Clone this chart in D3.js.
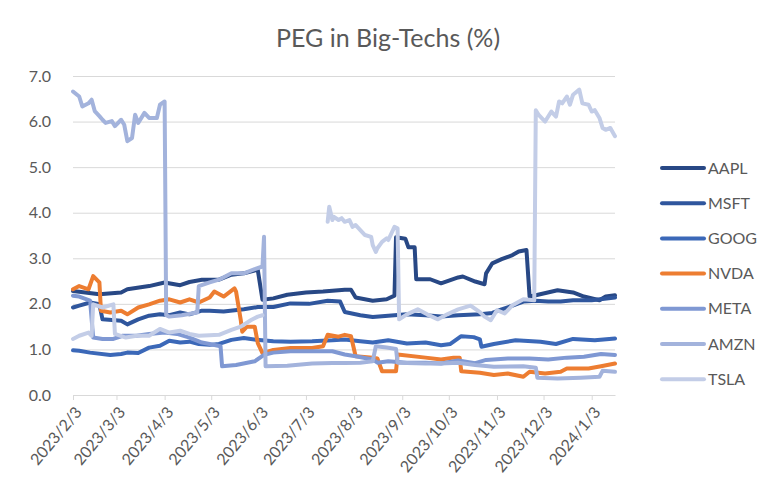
<!DOCTYPE html>
<html>
<head>
<meta charset="utf-8">
<script src="https://cdn.jsdelivr.net/npm/d3@7"></script>
<style>
  body { margin: 0; background: #fff; }
  svg text { font-family: Lato, "Open Sans", sans-serif; fill: #595959; }
</style>
</head>
<body>
<svg id="chart" width="777" height="494"></svg>
<script>
// PEG values, [date, value]; null = gap in data
const aapl = [["2023-02-03",2.28],["2023-02-20",2.21],["2023-03-06",2.25],["2023-03-10",2.32],["2023-03-24",2.39],["2023-04-03",2.47],["2023-04-13",2.41],["2023-04-19",2.48],["2023-04-27",2.53],["2023-05-08",2.53],["2023-05-16",2.64],["2023-05-24",2.67],["2023-06-01",2.74],["2023-06-02",2.74],["2023-06-05",2.09],["2023-06-12",2.12],["2023-06-21",2.2],["2023-07-03",2.25],["2023-07-14",2.27],["2023-07-28",2.31],["2023-08-01",2.31],["2023-08-04",2.14],["2023-08-15",2.07],["2023-08-24",2.1],["2023-08-29",2.18],["2023-08-30",3.46],["2023-09-05",3.43],["2023-09-07",3.24],["2023-09-11",3.24],["2023-09-12",2.54],["2023-09-21",2.54],["2023-09-28",2.45],["2023-10-09",2.58],["2023-10-12",2.6],["2023-10-20",2.49],["2023-10-26",2.43],["2023-10-27",2.67],["2023-10-31",2.89],["2023-11-06",2.98],["2023-11-13",3.07],["2023-11-17",3.15],["2023-11-22",3.18],["2023-11-24",2.16],["2023-11-28",2.19],["2023-12-12",2.3],["2023-12-22",2.25],["2023-12-29",2.16],["2024-01-08",2.08],["2024-01-12",2.16],["2024-01-18",2.19]];
const msft = [["2023-02-03",1.92],["2023-02-07",1.96],["2023-02-14",2.03],["2023-02-20",1.99],["2023-02-22",1.66],["2023-03-06",1.63],["2023-03-10",1.55],["2023-03-17",1.66],["2023-03-24",1.74],["2023-03-31",1.77],["2023-04-06",1.75],["2023-04-13",1.81],["2023-04-19",1.77],["2023-04-27",1.85],["2023-05-02",1.85],["2023-05-11",1.83],["2023-05-24",1.88],["2023-06-02",1.93],["2023-06-12",1.93],["2023-06-23",2.01],["2023-07-05",2.0],["2023-07-17",2.07],["2023-07-25",2.05],["2023-07-28",1.82],["2023-08-07",1.75],["2023-08-15",1.71],["2023-08-25",1.74],["2023-09-06",1.77],["2023-09-18",1.75],["2023-09-28",1.72],["2023-10-09",1.75],["2023-10-23",1.77],["2023-10-31",1.8],["2023-11-06",1.88],["2023-11-13",1.96],["2023-11-20",2.05],["2023-11-28",2.07],["2023-12-06",2.05],["2023-12-14",2.05],["2023-12-22",2.08],["2024-01-03",2.08],["2024-01-18",2.14]];
const goog = [["2023-02-03",0.98],["2023-02-07",0.97],["2023-02-14",0.93],["2023-02-27",0.88],["2023-03-06",0.9],["2023-03-10",0.93],["2023-03-17",0.92],["2023-03-24",1.04],["2023-03-31",1.08],["2023-04-06",1.19],["2023-04-13",1.15],["2023-04-19",1.17],["2023-04-25",1.12],["2023-05-02",1.1],["2023-05-08",1.12],["2023-05-16",1.21],["2023-05-24",1.25],["2023-06-01",1.21],["2023-06-12",1.18],["2023-06-23",1.17],["2023-07-07",1.18],["2023-07-20",1.2],["2023-07-28",1.22],["2023-08-07",1.18],["2023-08-15",1.15],["2023-08-25",1.2],["2023-09-06",1.13],["2023-09-18",1.15],["2023-09-28",1.09],["2023-10-04",1.12],["2023-10-11",1.29],["2023-10-19",1.27],["2023-10-23",1.22],["2023-10-24",1.06],["2023-11-01",1.12],["2023-11-15",1.2],["2023-12-01",1.17],["2023-12-11",1.12],["2023-12-22",1.23],["2024-01-05",1.2],["2024-01-18",1.24]];
const nvda = [["2023-02-03",2.32],["2023-02-07",2.39],["2023-02-13",2.32],["2023-02-16",2.61],["2023-02-20",2.47],["2023-02-21",1.85],["2023-02-27",1.81],["2023-03-06",1.85],["2023-03-10",1.77],["2023-03-17",1.92],["2023-03-24",1.99],["2023-03-31",2.07],["2023-04-06",2.1],["2023-04-13",2.03],["2023-04-19",2.1],["2023-04-25",2.03],["2023-05-02",2.14],["2023-05-05",2.27],["2023-05-11",2.16],["2023-05-18",2.34],["2023-05-19",2.27],["2023-05-22",1.65],["2023-05-23",1.39],["2023-05-26",1.5],["2023-05-31",1.5],["2023-06-02",1.14],["2023-06-05",0.92],["2023-06-12",0.99],["2023-06-23",1.03],["2023-07-07",1.03],["2023-07-14",1.07],["2023-07-17",1.32],["2023-07-24",1.28],["2023-07-28",1.32],["2023-08-01",1.29],["2023-08-04",0.85],["2023-08-15",0.82],["2023-08-18",0.8],["2023-08-21",0.52],["2023-08-30",0.52],["2023-08-31",0.89],["2023-09-18",0.82],["2023-09-28",0.78],["2023-10-06",0.82],["2023-10-10",0.82],["2023-10-11",0.52],["2023-10-23",0.49],["2023-11-01",0.44],["2023-11-10",0.47],["2023-11-20",0.4],["2023-11-24",0.51],["2023-12-04",0.47],["2023-12-14",0.51],["2023-12-18",0.58],["2024-01-01",0.58],["2024-01-09",0.63],["2024-01-18",0.69]];
const meta = [["2023-02-03",2.18],["2023-02-07",2.16],["2023-02-14",2.07],["2023-02-16",1.26],["2023-02-22",1.23],["2023-03-01",1.23],["2023-03-07",1.3],["2023-03-16",1.3],["2023-03-24",1.34],["2023-04-03",1.37],["2023-04-11",1.34],["2023-04-19",1.26],["2023-04-27",1.15],["2023-05-02",1.12],["2023-05-09",1.07],["2023-05-10",0.63],["2023-05-19",0.66],["2023-05-31",0.74],["2023-06-06",0.88],["2023-06-12",0.93],["2023-06-23",0.96],["2023-07-07",0.96],["2023-07-20",0.96],["2023-07-28",0.89],["2023-08-04",0.85],["2023-08-15",0.78],["2023-08-18",0.71],["2023-08-25",0.74],["2023-09-06",0.71],["2023-09-18",0.71],["2023-09-28",0.69],["2023-10-09",0.76],["2023-10-20",0.7],["2023-10-27",0.77],["2023-11-10",0.8],["2023-11-24",0.8],["2023-12-06",0.78],["2023-12-18",0.82],["2023-12-29",0.84],["2024-01-09",0.9],["2024-01-18",0.88]];
const amzn = [["2023-02-03",6.66],["2023-02-07",6.55],["2023-02-09",6.33],["2023-02-13",6.4],["2023-02-15",6.48],["2023-02-17",6.23],["2023-02-20",6.12],["2023-02-22",6.04],["2023-02-24",5.97],["2023-02-28",6.01],["2023-03-02",5.9],["2023-03-06",6.04],["2023-03-08",5.93],["2023-03-10",5.57],["2023-03-13",5.64],["2023-03-15",6.15],["2023-03-17",5.97],["2023-03-21",6.19],["2023-03-24",6.08],["2023-03-29",6.08],["2023-03-31",6.37],["2023-04-03",6.44],["2023-04-04",1.75],["2023-04-06",1.72],["2023-04-14",1.75],["2023-04-24",1.81],["2023-04-25",2.39],["2023-05-02",2.47],["2023-05-08",2.53],["2023-05-16",2.67],["2023-05-24",2.67],["2023-05-31",2.76],["2023-06-05",2.82],["2023-06-06",3.47],["2023-06-07",0.63],["2023-06-21",0.64],["2023-07-07",0.69],["2023-07-20",0.7],["2023-07-28",0.7],["2023-08-07",0.71],["2023-08-15",0.74],["2023-08-17",1.07],["2023-08-24",1.04],["2023-08-30",1.01],["2023-08-31",0.71],["2023-09-18",0.69],["2023-09-28",0.69],["2023-10-09",0.71],["2023-10-20",0.66],["2023-11-01",0.62],["2023-11-20",0.63],["2023-11-28",0.6],["2023-11-29",0.38],["2023-12-12",0.36],["2023-12-27",0.38],["2024-01-08",0.4],["2024-01-10",0.53],["2024-01-18",0.51]];
const tsla = [["2023-02-03",1.23],["2023-02-07",1.3],["2023-02-13",1.37],["2023-02-15",1.3],["2023-02-16",1.99],["2023-02-22",1.92],["2023-03-01",1.99],["2023-03-02",1.34],["2023-03-09",1.26],["2023-03-16",1.3],["2023-03-24",1.3],["2023-03-31",1.45],["2023-04-06",1.37],["2023-04-13",1.41],["2023-04-19",1.34],["2023-04-25",1.3],["2023-05-02",1.31],["2023-05-08",1.32],["2023-05-16",1.43],["2023-05-22",1.5],["2023-05-29",1.65],["2023-06-02",1.72],["2023-06-05",1.75],["2023-06-06",null],["2023-07-17",3.8],["2023-07-18",4.13],["2023-07-20",3.84],["2023-07-21",3.91],["2023-07-24",3.84],["2023-07-26",3.88],["2023-07-28",3.8],["2023-07-31",3.84],["2023-08-02",3.69],["2023-08-04",3.73],["2023-08-07",3.62],["2023-08-10",3.51],["2023-08-14",3.47],["2023-08-15",3.29],["2023-08-17",3.14],["2023-08-18",3.22],["2023-08-21",3.36],["2023-08-24",3.44],["2023-08-25",3.4],["2023-08-29",3.69],["2023-08-31",3.66],["2023-09-01",1.66],["2023-09-06",1.77],["2023-09-13",1.88],["2023-09-19",1.77],["2023-09-26",1.66],["2023-10-02",1.77],["2023-10-09",1.88],["2023-10-17",1.96],["2023-10-23",1.82],["2023-10-26",1.72],["2023-10-30",1.64],["2023-11-03",1.86],["2023-11-08",1.79],["2023-11-13",1.97],["2023-11-20",2.1],["2023-11-27",2.08],["2023-11-28",6.25],["2023-11-30",6.14],["2023-12-04",6.0],["2023-12-08",6.22],["2023-12-11",6.11],["2023-12-13",6.44],["2023-12-15",6.4],["2023-12-18",6.55],["2023-12-20",6.37],["2023-12-22",6.59],["2023-12-26",6.7],["2023-12-28",6.4],["2024-01-01",6.37],["2024-01-03",6.22],["2024-01-05",6.25],["2024-01-08",6.08],["2024-01-10",5.86],["2024-01-12",5.82],["2024-01-15",5.86],["2024-01-18",5.68]];

const tickers = ["AAPL", "MSFT", "GOOG", "NVDA", "META", "AMZN", "TSLA"];
const seriesData = [aapl, msft, goog, nvda, meta, amzn, tsla];
const colors = ["#284885", "#2f569d", "#3b68b8", "#ed7d31", "#7f98d3", "#a3b3dc", "#c3cde7"];
const xTickDates = ["2023-02-03","2023-03-03","2023-04-03","2023-05-03","2023-06-03","2023-07-03","2023-08-03","2023-09-03","2023-10-03","2023-11-03","2023-12-03","2024-01-03"];
const yTicks = [0, 1, 2, 3, 4, 5, 6, 7];

const svg = d3.select("#chart");
const parse = d3.timeParse("%Y-%m-%d");
const margin = { top: 76, left: 73, right: 162, bottom: 99 };
const width = +svg.attr("width");
const height = +svg.attr("height");

const x = d3.scaleTime()
  .domain([parse("2023-02-03"), parse("2024-01-18")])
  .range([margin.left, width - margin.right]);

const y = d3.scaleLinear()
  .domain([0, 7])
  .range([height - margin.bottom, margin.top]);

// title
svg.append("text")
  .attr("x", 388)
  .attr("y", 47)
  .attr("text-anchor", "middle")
  .style("font-size", "25px")
  .text("PEG in Big-Techs (%)");

// gridlines + y labels
const yAxis = svg.append("g")
  .attr("transform", `translate(${margin.left},0)`)
  .call(d3.axisLeft(y).tickValues(yTicks).tickFormat(d3.format(".1f"))
    .tickSize(-(width - margin.left - margin.right)).tickPadding(22));
yAxis.select(".domain").remove();
yAxis.selectAll("line").attr("stroke", "#d9d9d9");
yAxis.selectAll("text").style("font-size", "16px").attr("fill", "#595959");

// x axis
const xAxis = svg.append("g")
  .attr("transform", `translate(0,${y(0)})`)
  .call(d3.axisBottom(x).tickValues(xTickDates.map(parse))
    .tickFormat(d3.timeFormat("%Y/%-m/%-d")).tickSize(5).tickSizeOuter(0));
xAxis.select(".domain").attr("stroke", "#d9d9d9");
xAxis.selectAll("line").attr("stroke", "#d9d9d9");
xAxis.selectAll("text")
  .attr("x", 0).attr("y", 0).attr("dy", "0.35em")
  .attr("transform", "translate(5,14) rotate(-50)")
  .attr("text-anchor", "end")
  .attr("fill", "#595959")
  .style("font-size", "16px");

// lines
const line = d3.line()
  .defined(d => d[1] != null)
  .x(d => x(parse(d[0])))
  .y(d => y(d[1]));

seriesData.forEach((data, i) => {
  svg.append("path")
    .datum(data)
    .attr("fill", "none")
    .attr("stroke", colors[i])
    .attr("stroke-width", 4)
    .attr("stroke-linejoin", "round")
    .attr("stroke-linecap", "round")
    .attr("d", line);
});

// legend
const legend = svg.append("g").attr("transform", "translate(662,168)");
tickers.forEach((t, i) => {
  const row = legend.append("g").attr("transform", `translate(0,${i * 35.2})`);
  row.append("line")
    .attr("x1", 0).attr("x2", 42)
    .attr("stroke", colors[i])
    .attr("stroke-width", 4)
    .attr("stroke-linecap", "round");
  row.append("text")
    .attr("x", 46)
    .attr("dy", "0.35em")
    .style("font-size", "16px")
    .text(t);
});
</script>
</body>
</html>
